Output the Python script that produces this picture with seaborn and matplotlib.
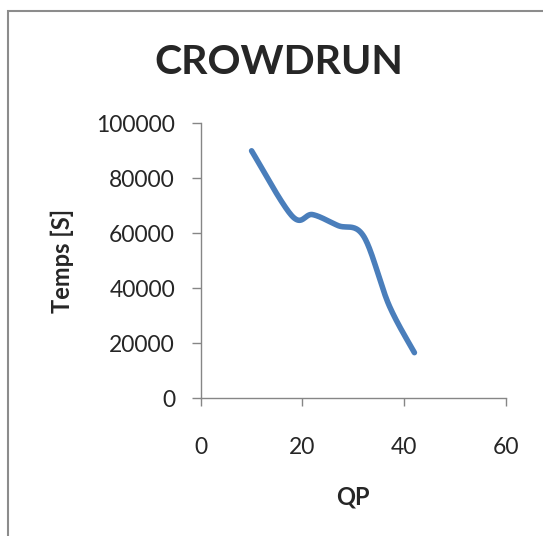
import numpy as np
import pandas as pd
import matplotlib
matplotlib.use("Agg")
import matplotlib.pyplot as plt
import seaborn as sns
from matplotlib.patches import Rectangle

qp = [10, 18, 22, 27, 32, 37, 42]
temps = [90000, 66200, 66800, 62800, 59000, 33900, 16600]
x_ticks = [0, 20, 40, 60]
y_ticks = [0, 20000, 40000, 60000, 80000, 100000]
title = "CROWDRUN"
x_label = "QP"
y_label = "Temps [S]"


def excel_smooth(xs, ys, n=40):
    pts = np.column_stack([xs, ys]).astype(float)
    out = []
    m = len(pts)
    for i in range(m - 1):
        p0 = pts[i - 1] if i > 0 else pts[i]
        p1 = pts[i]
        p2 = pts[i + 1]
        p3 = pts[i + 2] if i + 2 < m else pts[i + 1]
        c1 = p1 + (p2 - p0) / 6.0
        c2 = p2 - (p3 - p1) / 6.0
        t = np.linspace(0, 1, n)[:, None]
        seg = ((1 - t) ** 3) * p1 + 3 * ((1 - t) ** 2) * t * c1 + 3 * (1 - t) * t ** 2 * c2 + t ** 3 * p2
        if i > 0:
            seg = seg[1:]
        out.append(seg)
    out = np.vstack(out)
    return out[:, 0], out[:, 1]


sns.set_theme(style="white")
plt.rcParams["font.family"] = ["Lato", "DejaVu Sans"]

W, H = 543, 536
fig = plt.figure(figsize=(W / 100, H / 100), dpi=100)
fig.patch.set_facecolor("white")

# outer chart border (cropped on right/bottom)
fig.patches.append(Rectangle((7.5 / W, -0.01), 1.05, 1 - 11 / H + 0.01, transform=fig.transFigure,
                             fill=False, edgecolor="#8c8c8c", linewidth=1.5))

ax = fig.add_axes([200.7 / W, 1 - 398.3 / H, (506 - 200.7) / W, (398.3 - 123.3) / H])

sx, sy = excel_smooth(qp, temps)
df = pd.DataFrame({"QP": sx, "Temps": sy})
sns.lineplot(data=df, x="QP", y="Temps", ax=ax, color="#4a7ebb", linewidth=4.0, sort=False,
             solid_capstyle="round", solid_joinstyle="round")

ax.set_xlim(0, 60)
ax.set_ylim(0, 100000)
ax.set_xticks(x_ticks)
ax.set_yticks(y_ticks)
ax.set_xticklabels([str(v) for v in x_ticks], fontsize=16.5)
ax.set_yticklabels([str(v) for v in y_ticks], fontsize=16.5)
ax.tick_params(axis="x", direction="out", length=6, width=1, color="#868686", pad=22, bottom=True)
ax.tick_params(axis="y", direction="out", length=6.5, width=1, color="#868686", pad=12, left=True)
for s in ["top", "right"]:
    ax.spines[s].set_visible(False)
for s in ["left", "bottom"]:
    ax.spines[s].set_color("#868686")
    ax.spines[s].set_linewidth(1)
ax.set_xlabel(x_label, fontsize=17, fontweight="bold", labelpad=20)
ax.set_ylabel(y_label, fontsize=17, fontweight="bold", labelpad=16)

fig.text(278.5 / W, 1 - 63 / H, title, fontsize=29.5, fontweight="bold", ha="center", va="center")

fig.savefig("out.png", dpi=100)
